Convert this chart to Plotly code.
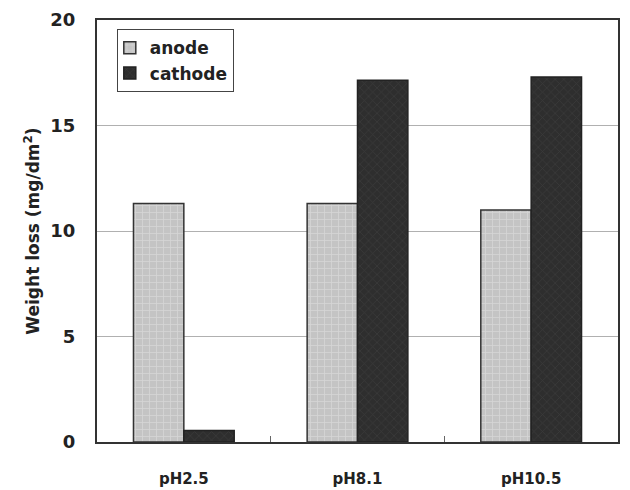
import plotly.graph_objects as go

categories = ["pH2.5", "pH8.1", "pH10.5"]
anode = [11.3, 11.3, 11.0]
cathode = [0.55, 17.15, 17.3]
y_ticks = [0, 5, 10, 15, 20]

FONT = "DejaVu Sans, Liberation Sans, Arial"

fig = go.Figure()
fig.add_trace(go.Bar(
    x=categories, y=anode, name="anode",
    marker=dict(color="#c4c4c4", line=dict(color="#333", width=1.5),
                pattern=dict(shape="+", fgcolor="#e8e8e8", size=7, solidity=0.2)),
))
fig.add_trace(go.Bar(
    x=categories, y=cathode, name="cathode",
    marker=dict(color="#2e2e2e", line=dict(color="#222", width=1.5),
                pattern=dict(shape="x", fgcolor="#4a4a4a", size=6, solidity=0.2)),
))

fig.update_layout(
    width=630, height=490,
    margin=dict(l=89, r=20, t=12, b=56),
    paper_bgcolor="white", plot_bgcolor="white",
    barmode="group", bargap=0.42, bargroupgap=0,
    font=dict(family=FONT, color="#222"),
    showlegend=True,
    legend=dict(x=0.038, y=0.978, xanchor="left", yanchor="top",
                bordercolor="#444", borderwidth=1, bgcolor="white",
                font=dict(size=17, color="#222", weight="bold", family=FONT),
                tracegroupgap=0, itemwidth=30, indentation=-8),
    xaxis=dict(showline=True, linecolor="#333", linewidth=2, mirror=True,
               ticks="inside", tickson="boundaries", ticklen=6, tickcolor="#666",
               tickfont=dict(size=15, color="#222", weight="bold"), ticklabelstandoff=22,
               showgrid=False, automargin=False),
    yaxis=dict(range=[0, 20], tickvals=y_ticks, showline=True, linecolor="#333",
               linewidth=2, mirror=True, ticks="", showgrid=True,
               gridcolor="#b0b0b0", gridwidth=1, zeroline=False, automargin=False,
               tickfont=dict(size=18, color="#222", weight="bold"), ticklabelstandoff=16,
               title=dict(text="<b>Weight loss (mg/dm<sup>2</sup>)</b>",
                          font=dict(size=17, color="#222"), standoff=6)),
)

fig.write_html("out.html")
